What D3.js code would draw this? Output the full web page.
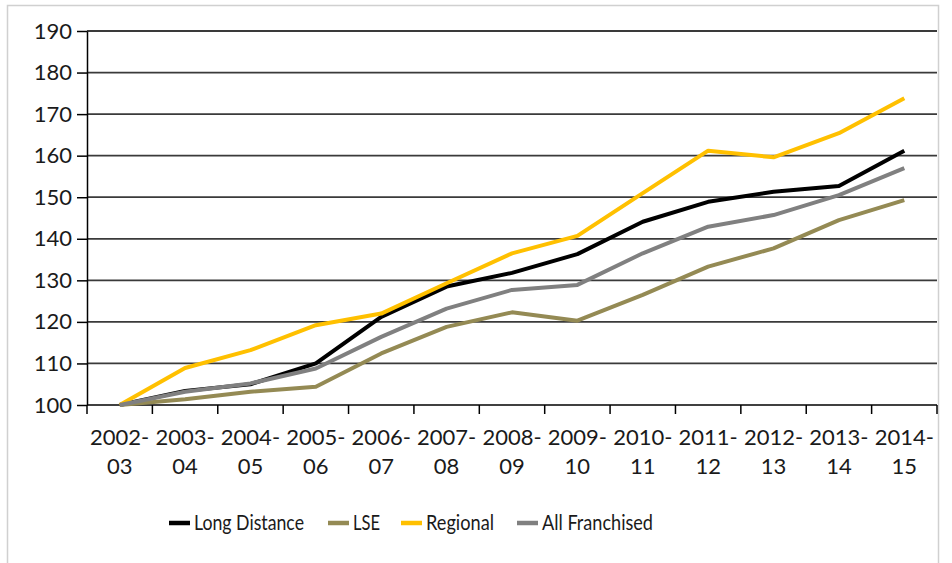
<!DOCTYPE html>
<html>
<head>
<meta charset="utf-8">
<script src="https://cdn.jsdelivr.net/npm/d3@7"></script>
<style>
  body { margin: 0; background: #fff; }
  svg { display: block; font-family: Lato, "Open Sans", sans-serif; }
</style>
</head>
<body>
<svg id="chart" width="952" height="563"></svg>
<script>
// Data
const YEARS = ["2002-03", "2003-04", "2004-05", "2005-06", "2006-07", "2007-08", "2008-09",
  "2009-10", "2010-11", "2011-12", "2012-13", "2013-14", "2014-15"];
const LONG_DISTANCE = [100, 103.4, 105, 110, 121.2, 128.5, 131.8, 136.3, 144.1, 148.9, 151.3, 152.7, 161.2];
const LSE = [100, 101.4, 103.2, 104.4, 112.4, 118.8, 122.3, 120.3, 126.5, 133.3, 137.7, 144.5, 149.3];
const REGIONAL = [100, 108.9, 113.2, 119.2, 122, 129.3, 136.5, 140.7, 151, 161.2, 159.6, 165.4, 173.8];
const ALL_FRANCHISED = [100, 103.2, 105.2, 108.8, 116.4, 123.2, 127.7, 128.9, 136.5, 142.9, 145.7, 150.5, 157];
const Y_TICKS = [100, 110, 120, 130, 140, 150, 160, 170, 180, 190];

const SERIES = [
  { name: "Long Distance", values: LONG_DISTANCE, color: "#000000" },
  { name: "LSE", values: LSE, color: "#948a54" },
  { name: "Regional", values: REGIONAL, color: "#ffc000" },
  { name: "All Franchised", values: ALL_FRANCHISED, color: "#808080" },
];

const COLORS = { text: "#1a1a1a", grid: "#3a3a3a", axis: "#000", frame: "#d0d0d0" };
const PLOT = { left: 87, right: 937, top: 31, bottom: 405 };

const svg = d3.select("#chart");

// outer frame
svg.append("rect")
  .attr("x", 7.5).attr("y", 5.5)
  .attr("width", 931).attr("height", 620)
  .attr("fill", "none")
  .attr("stroke", COLORS.frame)
  .attr("stroke-width", 1.5);

const x = d3.scaleBand().domain(YEARS).range([PLOT.left, PLOT.right]);
const y = d3.scaleLinear().domain([100, 190]).range([PLOT.bottom, PLOT.top]);

// gridlines
svg.append("g")
  .selectAll("line")
  .data(Y_TICKS.filter((d) => d > 100))
  .join("line")
  .attr("x1", PLOT.left).attr("x2", PLOT.right)
  .attr("y1", (d) => y(d)).attr("y2", (d) => y(d))
  .attr("stroke", COLORS.grid)
  .attr("stroke-width", 1.8);

// y axis
const yAxis = svg.append("g")
  .attr("transform", `translate(${PLOT.left},0)`)
  .call(d3.axisLeft(y).tickValues(Y_TICKS).tickSize(10).tickPadding(5).tickSizeOuter(0));
yAxis.select(".domain").attr("stroke", COLORS.axis).attr("stroke-width", 1.5);
yAxis.selectAll(".tick line").attr("stroke", COLORS.axis).attr("stroke-width", 1.5);
yAxis.selectAll(".tick text")
  .attr("fill", COLORS.text)
  .style("font-size", "22px")
  .style("font-family", "Lato, 'Open Sans', sans-serif");

// x axis: ticks at band boundaries, labels on two lines
const xAxis = svg.append("g").attr("transform", `translate(0,${PLOT.bottom})`);
xAxis.append("line")
  .attr("x1", PLOT.left).attr("x2", PLOT.right)
  .attr("stroke", COLORS.axis).attr("stroke-width", 1.5);
const boundaries = YEARS.map((d) => x(d)).concat([x(YEARS[YEARS.length - 1]) + x.bandwidth()]);
xAxis.selectAll(".xtick")
  .data(boundaries)
  .join("line")
  .attr("class", "xtick")
  .attr("x1", (d) => d).attr("x2", (d) => d)
  .attr("y1", 0).attr("y2", 9)
  .attr("stroke", COLORS.axis).attr("stroke-width", 1.5);
const labels = xAxis.selectAll(".xlabel")
  .data(YEARS)
  .join("text")
  .attr("class", "xlabel")
  .attr("text-anchor", "middle")
  .attr("fill", COLORS.text)
  .style("font-size", "22px");
labels.append("tspan")
  .attr("x", (d) => x(d) + x.bandwidth() / 2)
  .attr("y", 40)
  .text((d) => d.split("-")[0] + "-");
labels.append("tspan")
  .attr("x", (d) => x(d) + x.bandwidth() / 2)
  .attr("y", 69)
  .text((d) => d.split("-")[1]);

// lines
const line = d3.line()
  .x((d, i) => x(YEARS[i]) + x.bandwidth() / 2)
  .y((d) => y(d));

svg.append("g")
  .selectAll("path")
  .data(SERIES)
  .join("path")
  .attr("d", (s) => line(s.values))
  .attr("fill", "none")
  .attr("stroke", (s) => s.color)
  .attr("stroke-width", 4)
  .attr("stroke-linejoin", "round");

// legend (text squeezed a bit, the original font is narrower than Lato)
const LEGEND_X = [169, 328, 401, 517];
const LEGEND_TEXT_W = [110, 27, 68, 111];
const legend = svg.append("g")
  .selectAll("g")
  .data(SERIES)
  .join("g")
  .attr("transform", (d, i) => `translate(${LEGEND_X[i]},523)`);
legend.append("line")
  .attr("x1", 0).attr("x2", 21)
  .attr("stroke", (d) => d.color)
  .attr("stroke-width", 4.5);
legend.append("text")
  .attr("x", 25)
  .attr("dy", "0.35em")
  .attr("fill", COLORS.text)
  .attr("textLength", (d, i) => LEGEND_TEXT_W[i])
  .attr("lengthAdjust", "spacingAndGlyphs")
  .style("font-size", "21px")
  .text((d) => d.name);
</script>
</body>
</html>
